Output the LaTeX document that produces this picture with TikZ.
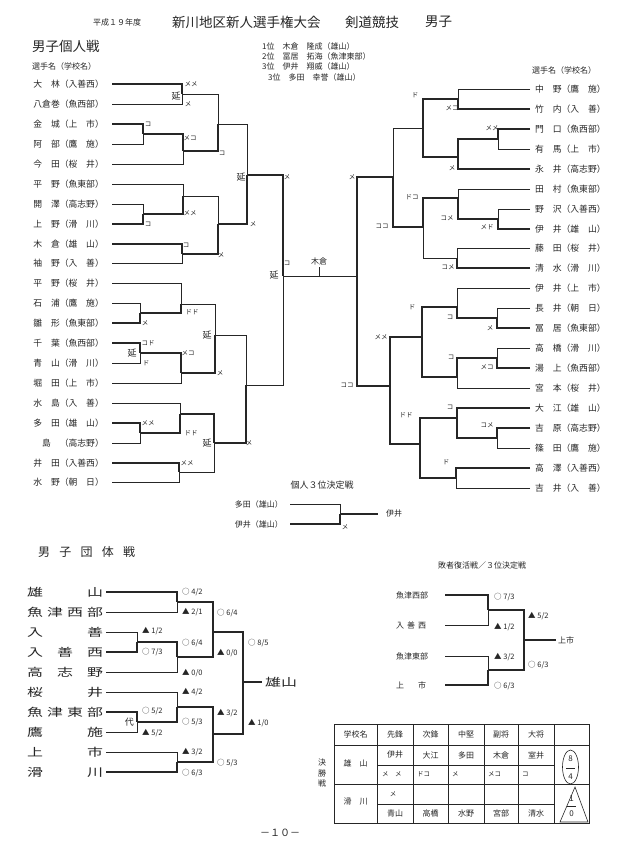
\documentclass[tikz,border=0pt]{standalone}
\usepackage{fontspec}
\setmainfont{Noto Sans CJK JP}
\newfontfamily\widefont[FakeStretch=1.45]{Noto Sans CJK JP}
\usetikzlibrary{positioning}
\definecolor{ink}{HTML}{262626}
\definecolor{paper}{HTML}{FFFFFF}

\tikzset{
  win/.style={line width=1.5pt, draw=ink},
  lose/.style={line width=0.6pt, draw=ink},
  grid/.style={line width=0.6pt, draw=ink},
  pname/.style={inner sep=0pt, text=ink, font=\fontsize{8.8}{10}\selectfont},
  mk/.style={inner sep=0pt, text=ink, font=\fontsize{6.5}{7}\selectfont},
  ext/.style={inner sep=0pt, text=ink, font=\fontsize{9}{10}\selectfont},
  score/.style={inner sep=0pt, anchor=west, text=ink, font=\fontsize{7.5}{8}\selectfont},
  team/.style={inner sep=0pt, anchor=west, text=ink, font=\widefont\fontsize{11}{12}\selectfont},
  cell/.style={inner sep=0pt, text=ink, font=\fontsize{8}{9}\selectfont},
}

\begin{document}
\begin{tikzpicture}[x=1pt, y=-1pt]
  \useasboundingbox[fill=paper] (0,0) rectangle (632,856);

  % Title
  \node[cell, anchor=west] (year) at (93,22) {平成１９年度};
  \node[inner sep=0pt, anchor=west, text=ink, font=\fontsize{13.5}{14}\selectfont] (title) at (172,22) {新川地区新人選手権大会};
  \node[inner sep=0pt, anchor=west, text=ink, font=\fontsize{13.5}{14}\selectfont] (sport) at (345,22) {剣道競技};
  \node[inner sep=0pt, anchor=west, text=ink, font=\fontsize{13.5}{14}\selectfont] (sex) at (425,22) {男子};

  % Individual results
  \node[inner sep=0pt, anchor=west, text=ink, font=\fontsize{13.5}{14}\selectfont] (indiv) at (32,46) {男子個人戦};
  \node[cell, anchor=west] (rank1) at (262,46) {1位　木倉　隆成（雄山）};
  \node[cell, anchor=west] (rank2) at (262,56) {2位　冨居　拓海（魚津東部）};
  \node[cell, anchor=west] (rank3a) at (262,66) {3位　伊井　翔威（雄山）};
  \node[cell, anchor=west] (rank3b) at (268,77) {3位　多田　幸誉（雄山）};
  \node[cell, anchor=west] (headL) at (32,66) {選手名（学校名）};
  \node[cell, anchor=west] (headR) at (532,70) {選手名（学校名）};

  % Left players
  \node[pname, anchor=east] (L0) at (104,84) {大　林（入善西）};
  \node[pname, anchor=east] (L1) at (104,104) {八倉巻（魚西部）};
  \node[pname, anchor=east] (L2) at (104,124) {金　城（上　市）};
  \node[pname, anchor=east] (L3) at (104,144) {阿　部（鷹　施）};
  \node[pname, anchor=east] (L4) at (104,164) {今　田（桜　井）};
  \node[pname, anchor=east] (L5) at (104,184) {平　野（魚東部）};
  \node[pname, anchor=east] (L6) at (104,204) {開　澤（高志野）};
  \node[pname, anchor=east] (L7) at (104,224) {上　野（滑　川）};
  \node[pname, anchor=east] (L8) at (104,244) {木　倉（雄　山）};
  \node[pname, anchor=east] (L9) at (104,263) {袖　野（入　善）};
  \node[pname, anchor=east] (L10) at (104,283) {平　野（桜　井）};
  \node[pname, anchor=east] (L11) at (104,303) {石　浦（鷹　施）};
  \node[pname, anchor=east] (L12) at (104,323) {雛　形（魚東部）};
  \node[pname, anchor=east] (L13) at (104,343) {千　葉（魚西部）};
  \node[pname, anchor=east] (L14) at (104,363) {青　山（滑　川）};
  \node[pname, anchor=east] (L15) at (104,383) {堀　田（上　市）};
  \node[pname, anchor=east] (L16) at (104,403) {水　島（入　善）};
  \node[pname, anchor=east] (L17) at (104,423) {多　田（雄　山）};
  \node[pname, anchor=east] (L18) at (104,443) {　島　（高志野）};
  \node[pname, anchor=east] (L19) at (104,463) {井　田（入善西）};
  \node[pname, anchor=east] (L20) at (104,482) {水　野（朝　日）};

  % Right players
  \node[pname, anchor=west] (R0) at (535,89) {中　野（鷹　施）};
  \node[pname, anchor=west] (R1) at (535,109) {竹　内（入　善）};
  \node[pname, anchor=west] (R2) at (535,129) {門　口（魚西部）};
  \node[pname, anchor=west] (R3) at (535,149) {有　馬（上　市）};
  \node[pname, anchor=west] (R4) at (535,169) {永　井（高志野）};
  \node[pname, anchor=west] (R5) at (535,189) {田　村（魚東部）};
  \node[pname, anchor=west] (R6) at (535,209) {野　沢（入善西）};
  \node[pname, anchor=west] (R7) at (535,229) {伊　井（雄　山）};
  \node[pname, anchor=west] (R8) at (535,248) {藤　田（桜　井）};
  \node[pname, anchor=west] (R9) at (535,268) {清　水（滑　川）};
  \node[pname, anchor=west] (R10) at (535,288) {伊　井（上　市）};
  \node[pname, anchor=west] (R11) at (535,308) {長　井（朝　日）};
  \node[pname, anchor=west] (R12) at (535,328) {冨　居（魚東部）};
  \node[pname, anchor=west] (R13) at (535,348) {高　橋（滑　川）};
  \node[pname, anchor=west] (R14) at (535,368) {湯　上（魚西部）};
  \node[pname, anchor=west] (R15) at (535,388) {宮　本（桜　井）};
  \node[pname, anchor=west] (R16) at (535,408) {大　江（雄　山）};
  \node[pname, anchor=west] (R17) at (535,428) {吉　原（高志野）};
  \node[pname, anchor=west] (R18) at (535,448) {篠　田（鷹　施）};
  \node[pname, anchor=west] (R19) at (535,468) {高　澤（入善西）};
  \node[pname, anchor=west] (R20) at (535,488) {吉　井（入　善）};

  % Left bracket, upper half
  \coordinate (la1) at (182,94);
  \coordinate (la2) at (143,134);
  \coordinate (la3) at (183,151);
  \coordinate (la4) at (218,124);
  \coordinate (la5) at (143,214);
  \coordinate (la6) at (183,196);
  \coordinate (la7) at (182,254);
  \coordinate (la8) at (218,224);
  \coordinate (la9) at (247,175);
  \coordinate (la10) at (283,276);
  \draw[win] ([xshift=8pt]L0.east) -| (la1);
  \draw[lose] ([xshift=8pt]L1.east) -| (la1);
  \draw[win] ([xshift=8pt]L2.east) -| (la2);
  \draw[lose] ([xshift=8pt]L3.east) -| (la2);
  \draw[win] (la2) -| (la3);
  \draw[lose] ([xshift=8pt]L4.east) -| (la3);
  \draw[lose] (la1) -| (la4);
  \draw[win] (la3) -| (la4);
  \draw[lose] ([xshift=8pt]L6.east) -| (la5);
  \draw[win] ([xshift=8pt]L7.east) -| (la5);
  \draw[lose] ([xshift=8pt]L5.east) -| (la6);
  \draw[win] (la5) -| (la6);
  \draw[win] ([xshift=8pt]L8.east) -| (la7);
  \draw[lose] ([xshift=8pt]L9.east) -| (la7);
  \draw[lose] (la6) -| (la8);
  \draw[win] (la7) -| (la8);
  \draw[lose] (la4) -| (la9);
  \draw[win] (la8) -| (la9);
  \draw[win] (la9) -| (la10);

  % Left bracket, lower half
  \coordinate (lb1) at (140,313);
  \coordinate (lb2) at (181,304);
  \coordinate (lb3) at (140,353);
  \coordinate (lb4) at (181,373);
  \coordinate (lb5) at (215,335);
  \coordinate (lb6) at (140,433);
  \coordinate (lb7) at (180,414);
  \coordinate (lb8) at (179,472);
  \coordinate (lb9) at (214,443);
  \coordinate (lb10) at (246,385);
  \draw[lose] ([xshift=8pt]L11.east) -| (lb1);
  \draw[win] ([xshift=8pt]L12.east) -| (lb1);
  \draw[lose] ([xshift=8pt]L10.east) -| (lb2);
  \draw[win] (lb1) -| (lb2);
  \draw[win] ([xshift=8pt]L13.east) -| (lb3);
  \draw[lose] ([xshift=8pt]L14.east) -| (lb3);
  \draw[win] (lb3) -| (lb4);
  \draw[lose] ([xshift=8pt]L15.east) -| (lb4);
  \draw[lose] (lb2) -| (lb5);
  \draw[win] (lb4) -| (lb5);
  \draw[win] ([xshift=8pt]L17.east) -| (lb6);
  \draw[lose] ([xshift=8pt]L18.east) -| (lb6);
  \draw[lose] ([xshift=8pt]L16.east) -| (lb7);
  \draw[win] (lb6) -| (lb7);
  \draw[win] ([xshift=8pt]L19.east) -| (lb8);
  \draw[lose] ([xshift=8pt]L20.east) -| (lb8);
  \draw[win] (lb7) -| (lb9);
  \draw[lose] (lb8) -| (lb9);
  \draw[lose] (lb5) -| (lb10);
  \draw[win] (lb9) -| (lb10);
  \draw[lose] (lb10) -| (la10);

  % Right bracket, upper half
  \coordinate (ra1) at (458,99);
  \coordinate (ra2) at (498,139);
  \coordinate (ra3) at (458,157);
  \coordinate (ra4) at (423,128);
  \coordinate (ra6) at (498,219);
  \coordinate (ra7) at (458,198);
  \coordinate (ra9) at (457,258);
  \coordinate (ra8) at (423,227);
  \coordinate (ra5) at (393,177);
  \coordinate (rf) at (357,276);
  \draw[lose] ([xshift=-5pt]R0.west) -| (ra1);
  \draw[win] ([xshift=-5pt]R1.west) -| (ra1);
  \draw[win] ([xshift=-5pt]R2.west) -| (ra2);
  \draw[lose] ([xshift=-5pt]R3.west) -| (ra2);
  \draw[win] (ra2) -| (ra3);
  \draw[win] ([xshift=-5pt]R4.west) -| (ra3);
  \draw[win] (ra1) -| (ra4);
  \draw[win] (ra3) -| (ra4);
  \draw[lose] ([xshift=-5pt]R6.west) -| (ra6);
  \draw[win] ([xshift=-5pt]R7.west) -| (ra6);
  \draw[lose] ([xshift=-5pt]R5.west) -| (ra7);
  \draw[win] (ra6) -| (ra7);
  \draw[lose] ([xshift=-5pt]R8.west) -| (ra9);
  \draw[win] ([xshift=-5pt]R9.west) -| (ra9);
  \draw[win] (ra7) -| (ra8);
  \draw[lose] (ra9) -| (ra8);
  \draw[lose] (ra4) -| (ra5);
  \draw[win] (ra8) -| (ra5);
  \draw[win] (ra5) -| (rf);

  % Right bracket, lower half
  \coordinate (rb1) at (497,318);
  \coordinate (rb2) at (457,307);
  \coordinate (rb3) at (497,358);
  \coordinate (rb4) at (457,377);
  \coordinate (rb5) at (422,337);
  \coordinate (rb6) at (497,438);
  \coordinate (rb7) at (457,418);
  \coordinate (rb8) at (456,478);
  \coordinate (rb9) at (420,444);
  \coordinate (rb10) at (390,386);
  \draw[lose] ([xshift=-5pt]R11.west) -| (rb1);
  \draw[win] ([xshift=-5pt]R12.west) -| (rb1);
  \draw[lose] ([xshift=-5pt]R10.west) -| (rb2);
  \draw[win] (rb1) -| (rb2);
  \draw[lose] ([xshift=-5pt]R13.west) -| (rb3);
  \draw[win] ([xshift=-5pt]R14.west) -| (rb3);
  \draw[win] (rb3) -| (rb4);
  \draw[lose] ([xshift=-5pt]R15.west) -| (rb4);
  \draw[win] (rb2) -| (rb5);
  \draw[win] (rb4) -| (rb5);
  \draw[win] ([xshift=-5pt]R17.west) -| (rb6);
  \draw[lose] ([xshift=-5pt]R18.west) -| (rb6);
  \draw[win] ([xshift=-5pt]R16.west) -| (rb7);
  \draw[win] (rb6) -| (rb7);
  \draw[win] ([xshift=-5pt]R19.west) -| (rb8);
  \draw[lose] ([xshift=-5pt]R20.west) -| (rb8);
  \draw[win] (rb7) -| (rb9);
  \draw[win] (rb8) -| (rb9);
  \draw[win] (rb5) -| (rb10);
  \draw[win] (rb9) -| (rb10);
  \draw[win] (rb10) -| (rf);

  % Final
  \coordinate (tk) at (319,276);
  \draw[lose] (la10) -- (rf);
  \draw[lose] (tk) -- ++(0,-9) coordinate (tktop);
  \node[cell, above=2pt of tktop] (champ) {木倉};

  % Bout marks, left
  \node[mk] (m1) at (191,84) {メメ};
  \node[ext] (m2) at (176,96) {延};
  \node[mk] (m3) at (188,104) {メ};
  \node[mk] (m4) at (148,124) {コ};
  \node[mk] (m5) at (190,138) {メコ};
  \node[mk] (m6) at (222,153) {コ};
  \node[ext] (m7) at (241,177) {延};
  \node[mk] (m8) at (287,177) {メ};
  \node[mk] (m9) at (190,213) {メメ};
  \node[mk] (m10) at (148,224) {コ};
  \node[mk] (m11) at (253,224) {メ};
  \node[mk] (m12) at (186,245) {コ};
  \node[mk] (m13) at (221,255) {メ};
  \node[mk] (m14) at (287,263) {コ};
  \node[ext] (m15) at (274,275) {延};
  \node[mk] (m16) at (192,312) {ドド};
  \node[mk] (m17) at (145,323) {メ};
  \node[ext] (m18) at (207,335) {延};
  \node[mk] (m19) at (148,343) {コド};
  \node[ext] (m20) at (132,353) {延};
  \node[mk] (m21) at (188,353) {メコ};
  \node[mk] (m22) at (146,363) {ド};
  \node[mk] (m23) at (220,373) {メ};
  \node[mk] (m24) at (148,423) {メメ};
  \node[mk] (m25) at (191,433) {ドド};
  \node[ext] (m26) at (207,443) {延};
  \node[mk] (m27) at (249,443) {メ};
  \node[mk] (m28) at (187,463) {メメ};

  % Bout marks, right
  \node[mk] (n1) at (415,95) {ド};
  \node[mk] (n2) at (452,108) {メコ};
  \node[mk] (n3) at (492,128) {メメ};
  \node[mk] (n4) at (452,168) {メ};
  \node[mk] (n5) at (352,177) {メ};
  \node[mk] (n6) at (412,197) {ドコ};
  \node[mk] (n7) at (447,218) {コメ};
  \node[mk] (n8) at (487,227) {メド};
  \node[mk] (n9) at (382,226) {ココ};
  \node[mk] (n10) at (448,267) {コメ};
  \node[mk] (n11) at (412,307) {ド};
  \node[mk] (n12) at (450,317) {コ};
  \node[mk] (n13) at (490,328) {メ};
  \node[mk] (n14) at (381,337) {メメ};
  \node[mk] (n15) at (451,357) {コ};
  \node[mk] (n16) at (487,367) {メコ};
  \node[mk] (n17) at (347,385) {ココ};
  \node[mk] (n18) at (450,407) {コ};
  \node[mk] (n19) at (406,415) {ドド};
  \node[mk] (n20) at (487,425) {コメ};
  \node[mk] (n21) at (446,462) {ド};

  % Third place, individual
  \node[inner sep=0pt, text=ink, font=\fontsize{9}{10}\selectfont] (third) at (322,485) {個人３位決定戦};
  \node[cell, anchor=east] (P1) at (283,504) {多田（雄山）};
  \node[cell, anchor=east] (P2) at (283,524) {伊井（雄山）};
  \coordinate (tp) at (340,514);
  \draw[lose] ([xshift=7pt]P1.east) -| (tp);
  \draw[win] ([xshift=7pt]P2.east) -| (tp);
  \draw[win] (tp) -- ++(38,0) coordinate (tq);
  \node[cell, right=8pt of tq] (P3) {伊井};
  \node[mk] (p4) at (345,527) {メ};

  % Team event
  \node[inner sep=0pt, anchor=west, text=ink, font=\fontsize{12}{13}\selectfont] (teamhd) at (38,552)
    {\makebox[97pt][s]{男\hfill 子\hfill 団\hfill 体\hfill 戦}};
  \node[team] (T0) at (27,592) {\makebox[76pt][s]{雄\hfill 山}};
  \node[team] (T1) at (27,612) {\makebox[76pt][s]{魚\hfill 津\hfill 西\hfill 部}};
  \node[team] (T2) at (27,632) {\makebox[76pt][s]{入\hfill 善}};
  \node[team] (T3) at (27,652) {\makebox[76pt][s]{入\hfill 善\hfill 西}};
  \node[team] (T4) at (27,672) {\makebox[76pt][s]{高\hfill 志\hfill 野}};
  \node[team] (T5) at (27,692) {\makebox[76pt][s]{桜\hfill 井}};
  \node[team] (T6) at (27,712) {\makebox[76pt][s]{魚\hfill 津\hfill 東\hfill 部}};
  \node[team] (T7) at (27,732) {\makebox[76pt][s]{鷹\hfill 施}};
  \node[team] (T8) at (27,752) {\makebox[76pt][s]{上\hfill 市}};
  \node[team] (T9) at (27,772) {\makebox[76pt][s]{滑\hfill 川}};

  \coordinate (t1) at (177,602);
  \coordinate (t2) at (137,642);
  \coordinate (t3) at (177,657);
  \coordinate (t4) at (213,632);
  \coordinate (t5) at (137,722);
  \coordinate (t6) at (177,707);
  \coordinate (t7) at (177,762);
  \coordinate (t8) at (213,734);
  \coordinate (t9) at (243,682);
  \draw[win] ([xshift=3pt]T0.east) -| (t1);
  \draw[lose] ([xshift=3pt]T1.east) -| (t1);
  \draw[lose] ([xshift=3pt]T2.east) -| (t2);
  \draw[win] ([xshift=3pt]T3.east) -| (t2);
  \draw[win] (t2) -| (t3);
  \draw[lose] ([xshift=3pt]T4.east) -| (t3);
  \draw[win] (t1) -| (t4);
  \draw[win] (t3) -| (t4);
  \draw[lose] ([xshift=3pt]T5.east) -| (t6);
  \draw[win] ([xshift=3pt]T6.east) -| (t5);
  \draw[lose] ([xshift=3pt]T7.east) -| (t5);
  \draw[win] (t5) -| (t6);
  \draw[lose] ([xshift=3pt]T8.east) -| (t7);
  \draw[win] ([xshift=3pt]T9.east) -| (t7);
  \draw[win] (t6) -| (t8);
  \draw[win] (t7) -| (t8);
  \draw[win] (t4) -| (t9);
  \draw[win] (t8) -| (t9);
  \draw[win] (t9) -- ++(19,0) coordinate (t10);
  \node[team, right=3pt of t10] (champT) {雄山};

  \node[score] (s1) at (182,592) {○ 4/2};
  \node[score] (s2) at (182,612) {▲ 2/1};
  \node[score] (s3) at (142,631) {▲ 1/2};
  \node[score] (s4) at (142,652) {○ 7/3};
  \node[score] (s5) at (182,643) {○ 6/4};
  \node[score] (s6) at (182,673) {▲ 0/0};
  \node[score] (s7) at (217,613) {○ 6/4};
  \node[score] (s8) at (217,653) {▲ 0/0};
  \node[score] (s9) at (248,643) {○ 8/5};
  \node[score] (s10) at (182,692) {▲ 4/2};
  \node[score] (s11) at (142,711) {○ 5/2};
  \node[score] (s12) at (142,733) {▲ 5/2};
  \node[ext, anchor=east] (s13) at (134,722) {代};
  \node[score] (s14) at (182,722) {○ 5/3};
  \node[score] (s15) at (217,713) {▲ 3/2};
  \node[score] (s16) at (248,723) {▲ 1/0};
  \node[score] (s17) at (182,752) {▲ 3/2};
  \node[score] (s18) at (182,773) {○ 6/3};
  \node[score] (s19) at (217,763) {○ 5/3};

  % Repechage / third place, team
  \node[cell] (rephd) at (482,565) {敗者復活戦／３位決定戦};
  \node[cell, anchor=west] (Q0) at (396,595) {\makebox[30pt][s]{魚\hfill 津\hfill 西\hfill 部}};
  \node[cell, anchor=west] (Q1) at (396,625) {\makebox[30pt][s]{入\hfill 善\hfill 西}};
  \node[cell, anchor=west] (Q2) at (396,656) {\makebox[30pt][s]{魚\hfill 津\hfill 東\hfill 部}};
  \node[cell, anchor=west] (Q3) at (396,685) {\makebox[30pt][s]{上\hfill 市}};
  \coordinate (q1) at (488,610);
  \coordinate (q2) at (488,670);
  \coordinate (q3) at (524,640);
  \draw[win] ([xshift=19pt]Q0.east) -| (q1);
  \draw[lose] ([xshift=19pt]Q1.east) -| (q1);
  \draw[lose] ([xshift=19pt]Q2.east) -| (q2);
  \draw[win] ([xshift=19pt]Q3.east) -| (q2);
  \draw[win] (q1) -| (q3);
  \draw[win] (q2) -| (q3);
  \draw[win] (q3) -- ++(32,0) coordinate (q4);
  \node[cell, right=2pt of q4] (Q4) {上市};
  \node[score] (u1) at (494,597) {○ 7/3};
  \node[score] (u2) at (494,627) {▲ 1/2};
  \node[score] (u3) at (494,657) {▲ 3/2};
  \node[score] (u4) at (494,686) {○ 6/3};
  \node[score] (u5) at (528,616) {▲ 5/2};
  \node[score] (u6) at (528,665) {○ 6/3};

  % Final table
  \draw[grid] (334,724) rectangle (589,823);
  \draw[grid] (334,745) -- (589,745);
  \draw[grid] (334,784) -- (589,784);
  \draw[grid] (377,765) -- (554,765);
  \draw[grid] (377,804) -- (554,804);
  \foreach \cx in {377,413,448,484,518,554}
    \draw[grid] (\cx,724) -- (\cx,823);
  \node[cell] (h0) at (355.5,734.5) {学校名};
  \node[cell] (h1) at (395,734.5) {先鋒};
  \node[cell] (h2) at (430.5,734.5) {次鋒};
  \node[cell] (h3) at (466,734.5) {中堅};
  \node[cell] (h4) at (501,734.5) {副将};
  \node[cell] (h5) at (536,734.5) {大将};
  \node[cell] (c0) at (355.5,763) {雄　山};
  \node[cell] (c1) at (395,755) {伊井};
  \node[cell] (c2) at (430.5,755) {大江};
  \node[cell] (c3) at (466,755) {多田};
  \node[cell] (c4) at (501,755) {木倉};
  \node[cell] (c5) at (536,755) {室井};
  \node[mk, anchor=west] (c6) at (382,774) {メ　メ};
  \node[mk, anchor=west] (c7) at (417,774) {ドコ};
  \node[mk, anchor=west] (c8) at (452,774) {メ};
  \node[mk, anchor=west] (c9) at (488,774) {メコ};
  \node[mk, anchor=west] (c10) at (522,774) {コ};
  \node[cell] (d0) at (355.5,802) {滑　川};
  \node[mk] (d1) at (393,794) {メ};
  \node[cell] (d2) at (395,813.5) {青山};
  \node[cell] (d3) at (430.5,813.5) {高橋};
  \node[cell] (d4) at (466,813.5) {水野};
  \node[cell] (d5) at (501,813.5) {宮部};
  \node[cell] (d6) at (536,813.5) {清水};
  \draw[lose] (570.5,767) ellipse (8pt and 17pt);
  \node[cell] (w1) at (570.5,759) {8};
  \draw[lose] (566,768.5) -- (575,768.5);
  \node[cell] (w2) at (570.5,777) {4};
  \draw[lose] (575,787) -- (560,822) -- (588,822) -- cycle;
  \node[cell] (w3) at (571.5,799) {1};
  \draw[lose] (567,806) -- (576,806);
  \node[cell] (w4) at (571.5,814) {0};
  \node[cell, align=center, font=\fontsize{8}{10.5}\selectfont] (fin) at (322,773) {決\\勝\\戦};

  % Page number
  \node[inner sep=0pt, text=ink, font=\fontsize{10}{11}\selectfont] (page) at (280,833) {－１０－};
\end{tikzpicture}
\end{document}
